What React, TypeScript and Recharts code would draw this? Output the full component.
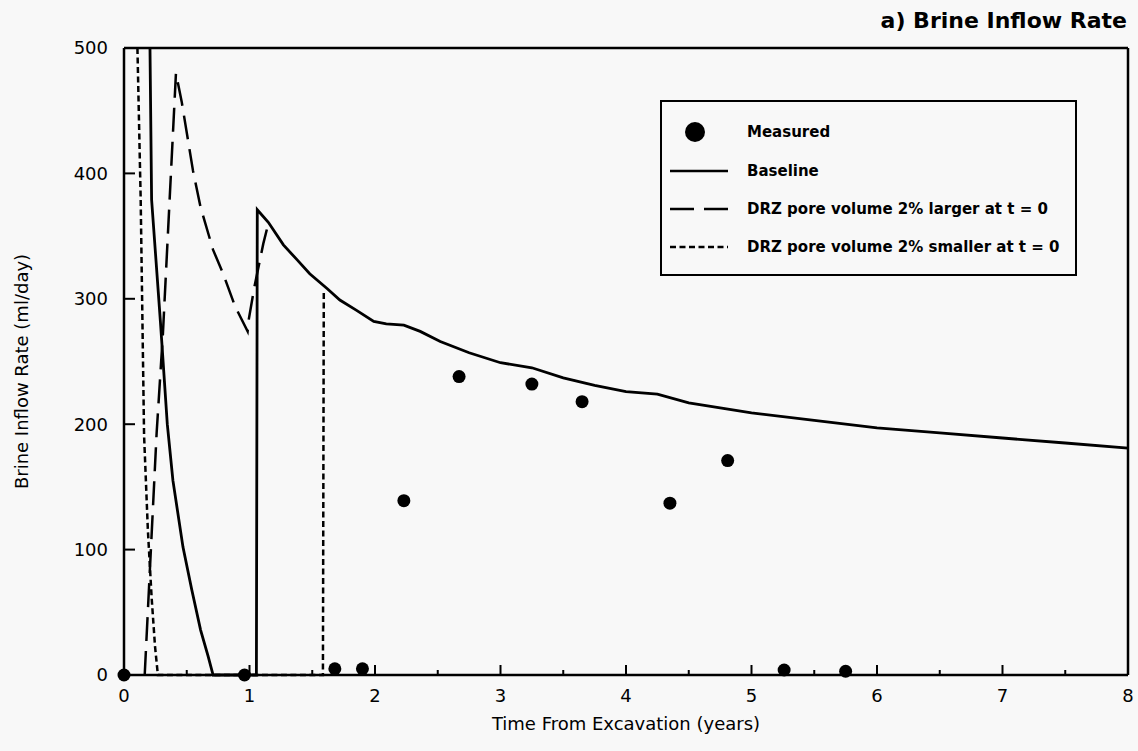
import React from 'react';
import { ComposedChart, Line, XAxis, YAxis, Legend } from 'recharts';

const FONT = '"DejaVu Sans", "Liberation Sans", Arial, sans-serif';
const PAPER = '#f8f8f8';

if (typeof document !== 'undefined') {
  document.body.style.margin = '0';
  document.body.style.background = PAPER;
  document.documentElement.style.background = PAPER;
}

// Baseline run
const baselineTime = [0.207, 0.22, 0.29, 0.345, 0.39, 0.47, 0.54, 0.61, 0.67, 0.71, 1.055, 1.062, 1.15, 1.27, 1.38, 1.48, 1.62, 1.72, 1.85, 1.99, 2.09, 2.23, 2.36, 2.52, 2.75, 3.0, 3.25, 3.5, 3.75, 4.0, 4.25, 4.5, 4.75, 5.0, 5.5, 6.0, 6.5, 7.0, 7.5, 8.0];
const baselineRate = [500, 379, 282, 200, 155, 102, 68, 36, 15, 0, 0, 371, 361, 343, 331, 320, 308, 299, 291, 282, 280, 279, 274, 266, 257, 249, 245, 237, 231, 226, 224, 217, 213, 209, 203, 197, 193, 189, 185, 181];

// DRZ pore volume 2% larger at t = 0
const largerTime = [0.165, 0.26, 0.31, 0.414, 0.46, 0.55, 0.61, 0.71, 0.79, 0.885, 0.985, 0.995, 1.04, 1.11, 1.15];
const largerRate = [0, 193, 272, 480, 457, 402, 373, 339, 320, 294, 274, 284, 310, 344, 360];

// DRZ pore volume 2% smaller at t = 0
const smallerTime = [0.107, 0.133, 0.16, 0.19, 0.22, 0.247, 0.27, 1.585, 1.592];
const smallerRate = [500, 379, 191, 116, 62, 23, 0, 0, 306];

// Measured
const measuredTime = [0, 0.96, 1.68, 1.9, 2.23, 2.67, 3.25, 3.65, 4.35, 4.81, 5.26, 5.75];
const measuredRate = [0, 0, 5, 5, 139, 238, 232, 218, 137, 171, 4, 3];

const xTicks = [0, 0.5, 1, 1.5, 2, 2.5, 3, 3.5, 4, 4.5, 5, 5.5, 6, 6.5, 7, 7.5, 8];
const yTicks = [0, 100, 200, 300, 400, 500];

const legendLabels = [
  'Measured',
  'Baseline',
  'DRZ pore volume 2% larger at t = 0',
  'DRZ pore volume 2% smaller at t = 0',
];

const toPoints = (ts: number[], vs: number[]) => ts.map((t, i) => ({ t, v: vs[i] }));

const baseline = toPoints(baselineTime, baselineRate);
const larger = toPoints(largerTime, largerRate);
const smaller = toPoints(smallerTime, smallerRate);
const measured = toPoints(measuredTime, measuredRate);

const BottomTick = (props: any) => {
  const { x, y, payload } = props;
  const major = Number.isInteger(payload.value);
  return (
    <g>
      <line x1={x} y1={y} x2={x} y2={y - (major ? 10 : 5)} stroke="#000" strokeWidth={2} />
      {major && (
        <text x={x} y={y + 27} textAnchor="middle" fontSize={18} fontFamily={FONT} fill="#000">
          {payload.value}
        </text>
      )}
    </g>
  );
};

const TopTick = (props: any) => {
  const { x, y, payload } = props;
  const major = Number.isInteger(payload.value);
  return <line x1={x} y1={y} x2={x} y2={y + (major ? 10 : 5)} stroke="#000" strokeWidth={2} />;
};

const LeftTick = (props: any) => {
  const { x, y, payload } = props;
  return (
    <g>
      <line x1={x} y1={y} x2={x + 11} y2={y} stroke="#000" strokeWidth={2} />
      <text x={x - 16} y={y} dy="0.36em" textAnchor="end" fontSize={18} fontFamily={FONT} fill="#000">
        {payload.value}
      </text>
    </g>
  );
};

const RightTick = (props: any) => {
  const { x, y } = props;
  return <line x1={x} y1={y} x2={x - 11} y2={y} stroke="#000" strokeWidth={2} />;
};

const XTitle = (props: any) => {
  const { viewBox } = props;
  return (
    <text x={viewBox.x + viewBox.width / 2} y={viewBox.y + 49} dy="0.36em" textAnchor="middle" fontSize={18} fontFamily={FONT} fill="#000">
      Time From Excavation (years)
    </text>
  );
};

const YTitle = (props: any) => {
  const { viewBox } = props;
  const cx = viewBox.x + 22;
  const cy = viewBox.y + viewBox.height / 2 + 10;
  return (
    <text x={cx} y={cy} dy="0.36em" textAnchor="middle" fontSize={18} fontFamily={FONT} fill="#000" transform={`rotate(-90, ${cx}, ${cy})`}>
      Brine Inflow Rate (ml/day)
    </text>
  );
};

const MainTitle = (props: any) => {
  const { viewBox } = props;
  return (
    <text x={viewBox.x + viewBox.width - 1} y={28} textAnchor="end" fontSize={22} fontWeight="bold" fontFamily={FONT} fill="#000">
      a) Brine Inflow Rate
    </text>
  );
};

const sampleDash = [null, undefined, '24 10', '6 3.5'];

const LegendBox = () => (
  <div
    style={{
      width: '100%',
      height: '100%',
      boxSizing: 'border-box',
      border: '2px solid #000',
      background: PAPER,
      position: 'relative',
      fontFamily: FONT,
    }}
  >
    {legendLabels.map((label, i) => {
      const top = [30, 69, 107, 145][i];
      const dash = sampleDash[i];
      return (
        <div key={label} style={{ position: 'absolute', left: 0, top: top - 12, height: 24, width: '100%' }}>
          <svg width={80} height={24} style={{ position: 'absolute', left: 0, top: 0 }}>
            {dash === null ? (
              <circle cx={33} cy={12} r={10} fill="#000" />
            ) : (
              <line x1={8} y1={12} x2={66} y2={12} stroke="#000" strokeWidth={2.5} strokeDasharray={dash} />
            )}
          </svg>
          <span
            style={{
              position: 'absolute',
              left: 85,
              top: 0,
              lineHeight: '24px',
              fontSize: 15,
              fontWeight: 'bold',
              color: '#000',
              whiteSpace: 'nowrap',
            }}
          >
            {label}
          </span>
        </div>
      );
    })}
  </div>
);

export default function App() {
  return (
    <div style={{ width: 1138, height: 751, background: PAPER, position: 'relative' }}>
      <ComposedChart width={1138} height={751} margin={{ top: 0, right: 0, bottom: 0, left: 0 }}>
        <XAxis
          xAxisId="bottom"
          type="number"
          dataKey="t"
          domain={[0, 8]}
          ticks={xTicks}
          interval={0}
          height={76}
          tickSize={0}
          tickMargin={0}
          tickLine={false}
          tick={<BottomTick />}
          axisLine={{ stroke: '#000', strokeWidth: 2.5 }}
          label={{ content: <XTitle /> }}
        />
        <XAxis
          xAxisId="top"
          orientation="top"
          type="number"
          dataKey="t"
          domain={[0, 8]}
          ticks={xTicks}
          interval={0}
          height={48}
          tickSize={0}
          tickMargin={0}
          tickLine={false}
          tick={<TopTick />}
          axisLine={{ stroke: '#000', strokeWidth: 2.5 }}
          label={{ content: <MainTitle /> }}
        />
        <YAxis
          yAxisId="left"
          type="number"
          dataKey="v"
          domain={[0, 500]}
          ticks={yTicks}
          interval={0}
          width={124}
          tickSize={0}
          tickMargin={0}
          tickLine={false}
          tick={<LeftTick />}
          axisLine={{ stroke: '#000', strokeWidth: 2.5 }}
          label={{ content: <YTitle /> }}
        />
        <YAxis
          yAxisId="right"
          orientation="right"
          type="number"
          dataKey="v"
          domain={[0, 500]}
          ticks={yTicks}
          interval={0}
          width={10}
          tickSize={0}
          tickMargin={0}
          tickLine={false}
          tick={<RightTick />}
          axisLine={{ stroke: '#000', strokeWidth: 2.5 }}
        />
        <Legend
          layout="vertical"
          align="center"
          verticalAlign="middle"
          content={<LegendBox />}
          wrapperStyle={{ left: 660, top: 100, width: 417, height: 176 }}
        />
        <Line
          xAxisId="bottom"
          yAxisId="left"
          data={smaller}
          dataKey="v"
          type="linear"
          stroke="#000"
          strokeWidth={2.5}
          strokeDasharray="6 3.5"
          dot={false}
          isAnimationActive={false}
        />
        <Line
          xAxisId="bottom"
          yAxisId="left"
          data={larger}
          dataKey="v"
          type="linear"
          stroke="#000"
          strokeWidth={2.5}
          strokeDasharray="24 10"
          dot={false}
          isAnimationActive={false}
        />
        <Line
          xAxisId="bottom"
          yAxisId="left"
          data={baseline}
          dataKey="v"
          type="linear"
          stroke="#000"
          strokeWidth={2.8}
          dot={false}
          isAnimationActive={false}
        />
        <Line
          xAxisId="bottom"
          yAxisId="left"
          data={measured}
          dataKey="v"
          type="linear"
          stroke="none"
          strokeWidth={0}
          dot={{ r: 6.5, fill: '#000', stroke: 'none' }}
          isAnimationActive={false}
        />
      </ComposedChart>
    </div>
  );
}
